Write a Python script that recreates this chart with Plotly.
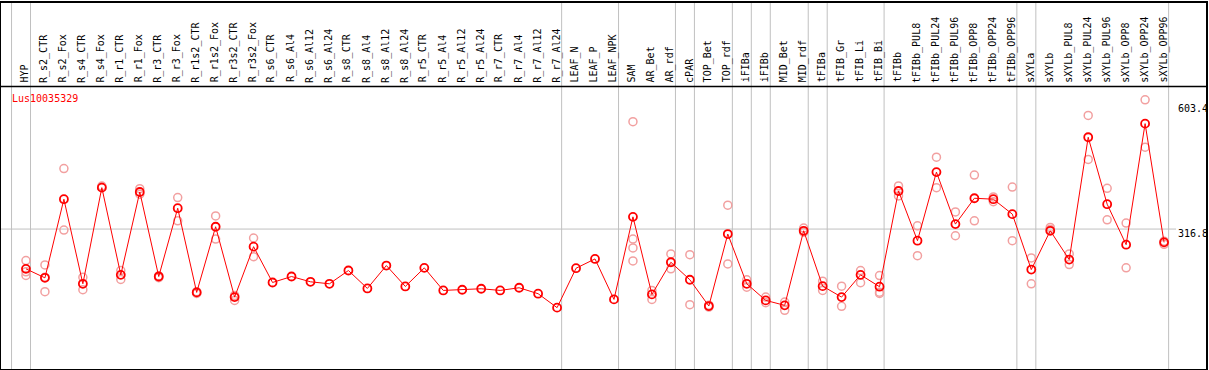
import plotly.graph_objects as go

# ---------------- data ----------------
categories = [
    "HYP", "R_s2_CTR", "R_s2_Fox", "R_s4_CTR", "R_s4_Fox", "R_r1_CTR", "R_r1_Fox",
    "R_r3_CTR", "R_r3_Fox", "R_r1s2_CTR", "R_r1s2_Fox", "R_r3s2_CTR", "R_r3s2_Fox",
    "R_s6_CTR", "R_s6_Al4", "R_s6_Al12", "R_s6_Al24", "R_s8_CTR", "R_s8_Al4",
    "R_s8_Al12", "R_s8_Al24", "R_r5_CTR", "R_r5_Al4", "R_r5_Al12", "R_r5_Al24",
    "R_r7_CTR", "R_r7_Al4", "R_r7_Al12", "R_r7_Al24", "LEAF_N", "LEAF_P", "LEAF_NPK",
    "SAM", "AR_Bet", "AR_rdf", "cPAR", "TOP_Bet", "TOP_rdf", "iFIBa", "iFIBb",
    "MID_Bet", "MID_rdf", "tFIBa", "tFIB_Gr", "tFIB_Li", "tFIB_Bi", "tFIBb",
    "tFIBb_PUL8", "tFIBb_PUL24", "tFIBb_PUL96", "tFIBb_OPP8", "tFIBb_OPP24",
    "tFIBb_OPP96", "sXYLa", "sXYLb", "sXYLb_PUL8", "sXYLb_PUL24", "sXYLb_PUL96",
    "sXYLb_OPP8", "sXYLb_OPP24", "sXYLb_OPP96",
]

mean_values = [
    228.6, 208.7, 383.0, 195.5, 408.6, 215.3, 399.0, 211.6, 363.0, 176.4, 321.9,
    166.0, 277.8, 198.4, 211.6, 199.9, 195.5, 224.9, 185.2, 235.9, 189.6, 230.8,
    180.8, 182.3, 184.5, 180.8, 186.7, 173.5, 142.6, 230.0, 250.6, 160.9, 343.9,
    172.0, 243.2, 204.4, 146.2, 305.7, 195.5, 158.7, 147.7, 313.0, 190.3, 166.0,
    215.3, 189.0, 401.2, 291.0, 443.1, 327.8, 385.1, 383.0, 349.9, 227.0, 313.0,
    249.1, 520.3, 371.9, 282.2, 550.5, 287.3,
]

replicate_values = [
    [247, 222, 214], [237.4, 177.9, 210], [451, 314.6], [210, 182.3], [410, 412],
    [224.9, 205], [406.3, 394], [213, 209], [386.5, 335], [178, 174], [346, 294.7],
    [169.8, 158.7], [297, 255.7],
    [], [], [], [], [], [], [], [], [], [], [], [], [], [], [], [],
    [], [], [],
    [554.9, 294.7, 274.9, 246.2], [180.8, 160.9], [261.7, 228.6], [260.1, 149.2],
    [148, 144], [369.7, 239.6], [204.4, 188.1], [166, 153.7], [155, 136.7],
    [319, 310], [201.3, 180.8], [190.3, 145.5], [224.9, 197.8], [213.8, 177, 174],
    [412.3, 390.2], [324, 257.9], [476.2, 408.6], [354.9, 302], [436.5, 335],
    [388, 377.6], [410, 291], [252.9, 195.5], [320.4, 316], [261.7, 238],
    [568.8, 471.1], [407.2, 337.3], [330, 230.8], [603.4, 498.2], [290, 283],
]

# last category (0-based index) of each group; -1 is the line before the first group
group_ends = [-1, 0, 28, 31, 34, 35, 37, 38, 39, 41, 42, 45, 52, 53, 60]

axis_labels = ["603.4", "316.8", "0"]
axis_label_values = [603.4, 316.8, 0.0]
gene_id = "Lus10035329"

# ---------------- layout geometry ----------------
W, H = 1209, 370
ML, MR, MT, MB = 1, 1, 1, 1
PL, PR = ML, W - MR          # plot pixel extents
PT, PB = MT, H - MB
X0_PX, DX_PX = 26.0, 19.0    # pixel of first category, spacing
Y0_PX, DY_PX = 372.0, 0.4536 # pixel of value 0, pixels per unit
HEADER_PX = 85               # bottom of label header
LABEL_X_PX = 1178

x_range = [(PL - X0_PX) / DX_PX, (PR - X0_PX) / DX_PX]
y_range = [(Y0_PX - PB) / DY_PX, (Y0_PX - PT) / DY_PX]


def paper_y(px):
    return (PB - px) / (PB - PT)


def paper_x(px):
    return (px - PL) / (PR - PL)


idx = list(range(len(categories)))
rep_x, rep_y = [], []
for i, reps in enumerate(replicate_values):
    for v in reps:
        rep_x.append(i)
        rep_y.append(v)

fig = go.Figure()
fig.add_trace(go.Scatter(
    x=rep_x, y=rep_y, mode="markers",
    marker=dict(symbol="circle-open", size=8, color="#f2a0a0", line=dict(width=1.5)),
    hoverinfo="skip", showlegend=False,
))
fig.add_trace(go.Scatter(
    x=idx, y=mean_values, mode="lines+markers",
    line=dict(color="#ff0000", width=1),
    marker=dict(symbol="circle-open", size=8, color="#ff0000", line=dict(width=1.8)),
    text=categories, showlegend=False,
))

shapes = []
for g in group_ends:
    shapes.append(dict(type="line", xref="x", yref="paper", x0=g + 0.24, x1=g + 0.24,
                       y0=0, y1=1, line=dict(color="#c0c0c0", width=1), layer="below"))
shapes.append(dict(type="line", xref="paper", yref="y", x0=0, x1=paper_x(LABEL_X_PX),
                   y0=axis_label_values[1], y1=axis_label_values[1],
                   line=dict(color="#c0c0c0", width=1), layer="below"))
shapes.append(dict(type="line", xref="paper", yref="paper", x0=0, x1=1,
                   y0=paper_y(HEADER_PX), y1=paper_y(HEADER_PX),
                   line=dict(color="black", width=1.5)))

annotations = []
for i, c in enumerate(categories):
    annotations.append(dict(x=i, y=paper_y(HEADER_PX - 2), xref="x", yref="paper",
                            text=c, textangle=-90, showarrow=False,
                            xanchor="center", yanchor="bottom", xshift=-1,
                            font=dict(family="DejaVu Sans Mono", size=10, color="black")))
label_shifts = [-8.4, -4.4, 9.7]
for t, v, s in zip(axis_labels, axis_label_values, label_shifts):
    annotations.append(dict(x=paper_x(LABEL_X_PX), y=v, xref="paper", yref="y", text=t,
                            showarrow=False, xanchor="left", yanchor="middle", yshift=s,
                            font=dict(family="DejaVu Sans Mono", size=10, color="black")))
annotations.append(dict(x=paper_x(10), y=paper_y(97), xref="paper", yref="paper",
                        text=gene_id, showarrow=False, xanchor="left", yanchor="middle",
                        font=dict(family="DejaVu Sans Mono", size=10, color="#ff0000")))

fig.update_layout(
    width=W, height=H, margin=dict(l=ML, r=MR, t=MT, b=MB, pad=0),
    paper_bgcolor="white", plot_bgcolor="white",
    xaxis=dict(range=x_range, showgrid=False, zeroline=False, showticklabels=False,
               ticks="", showline=True, mirror=True, linecolor="black", linewidth=1.5),
    yaxis=dict(range=y_range, showgrid=False, zeroline=False, showticklabels=False,
               ticks="", showline=True, mirror=True, linecolor="black", linewidth=1.5),
    shapes=shapes, annotations=annotations, showlegend=False,
)

fig.write_html(
    "out.html",
    config={"displayModeBar": False},
    post_script="document.body.style.margin='0px';document.body.style.overflow='hidden';",
)
